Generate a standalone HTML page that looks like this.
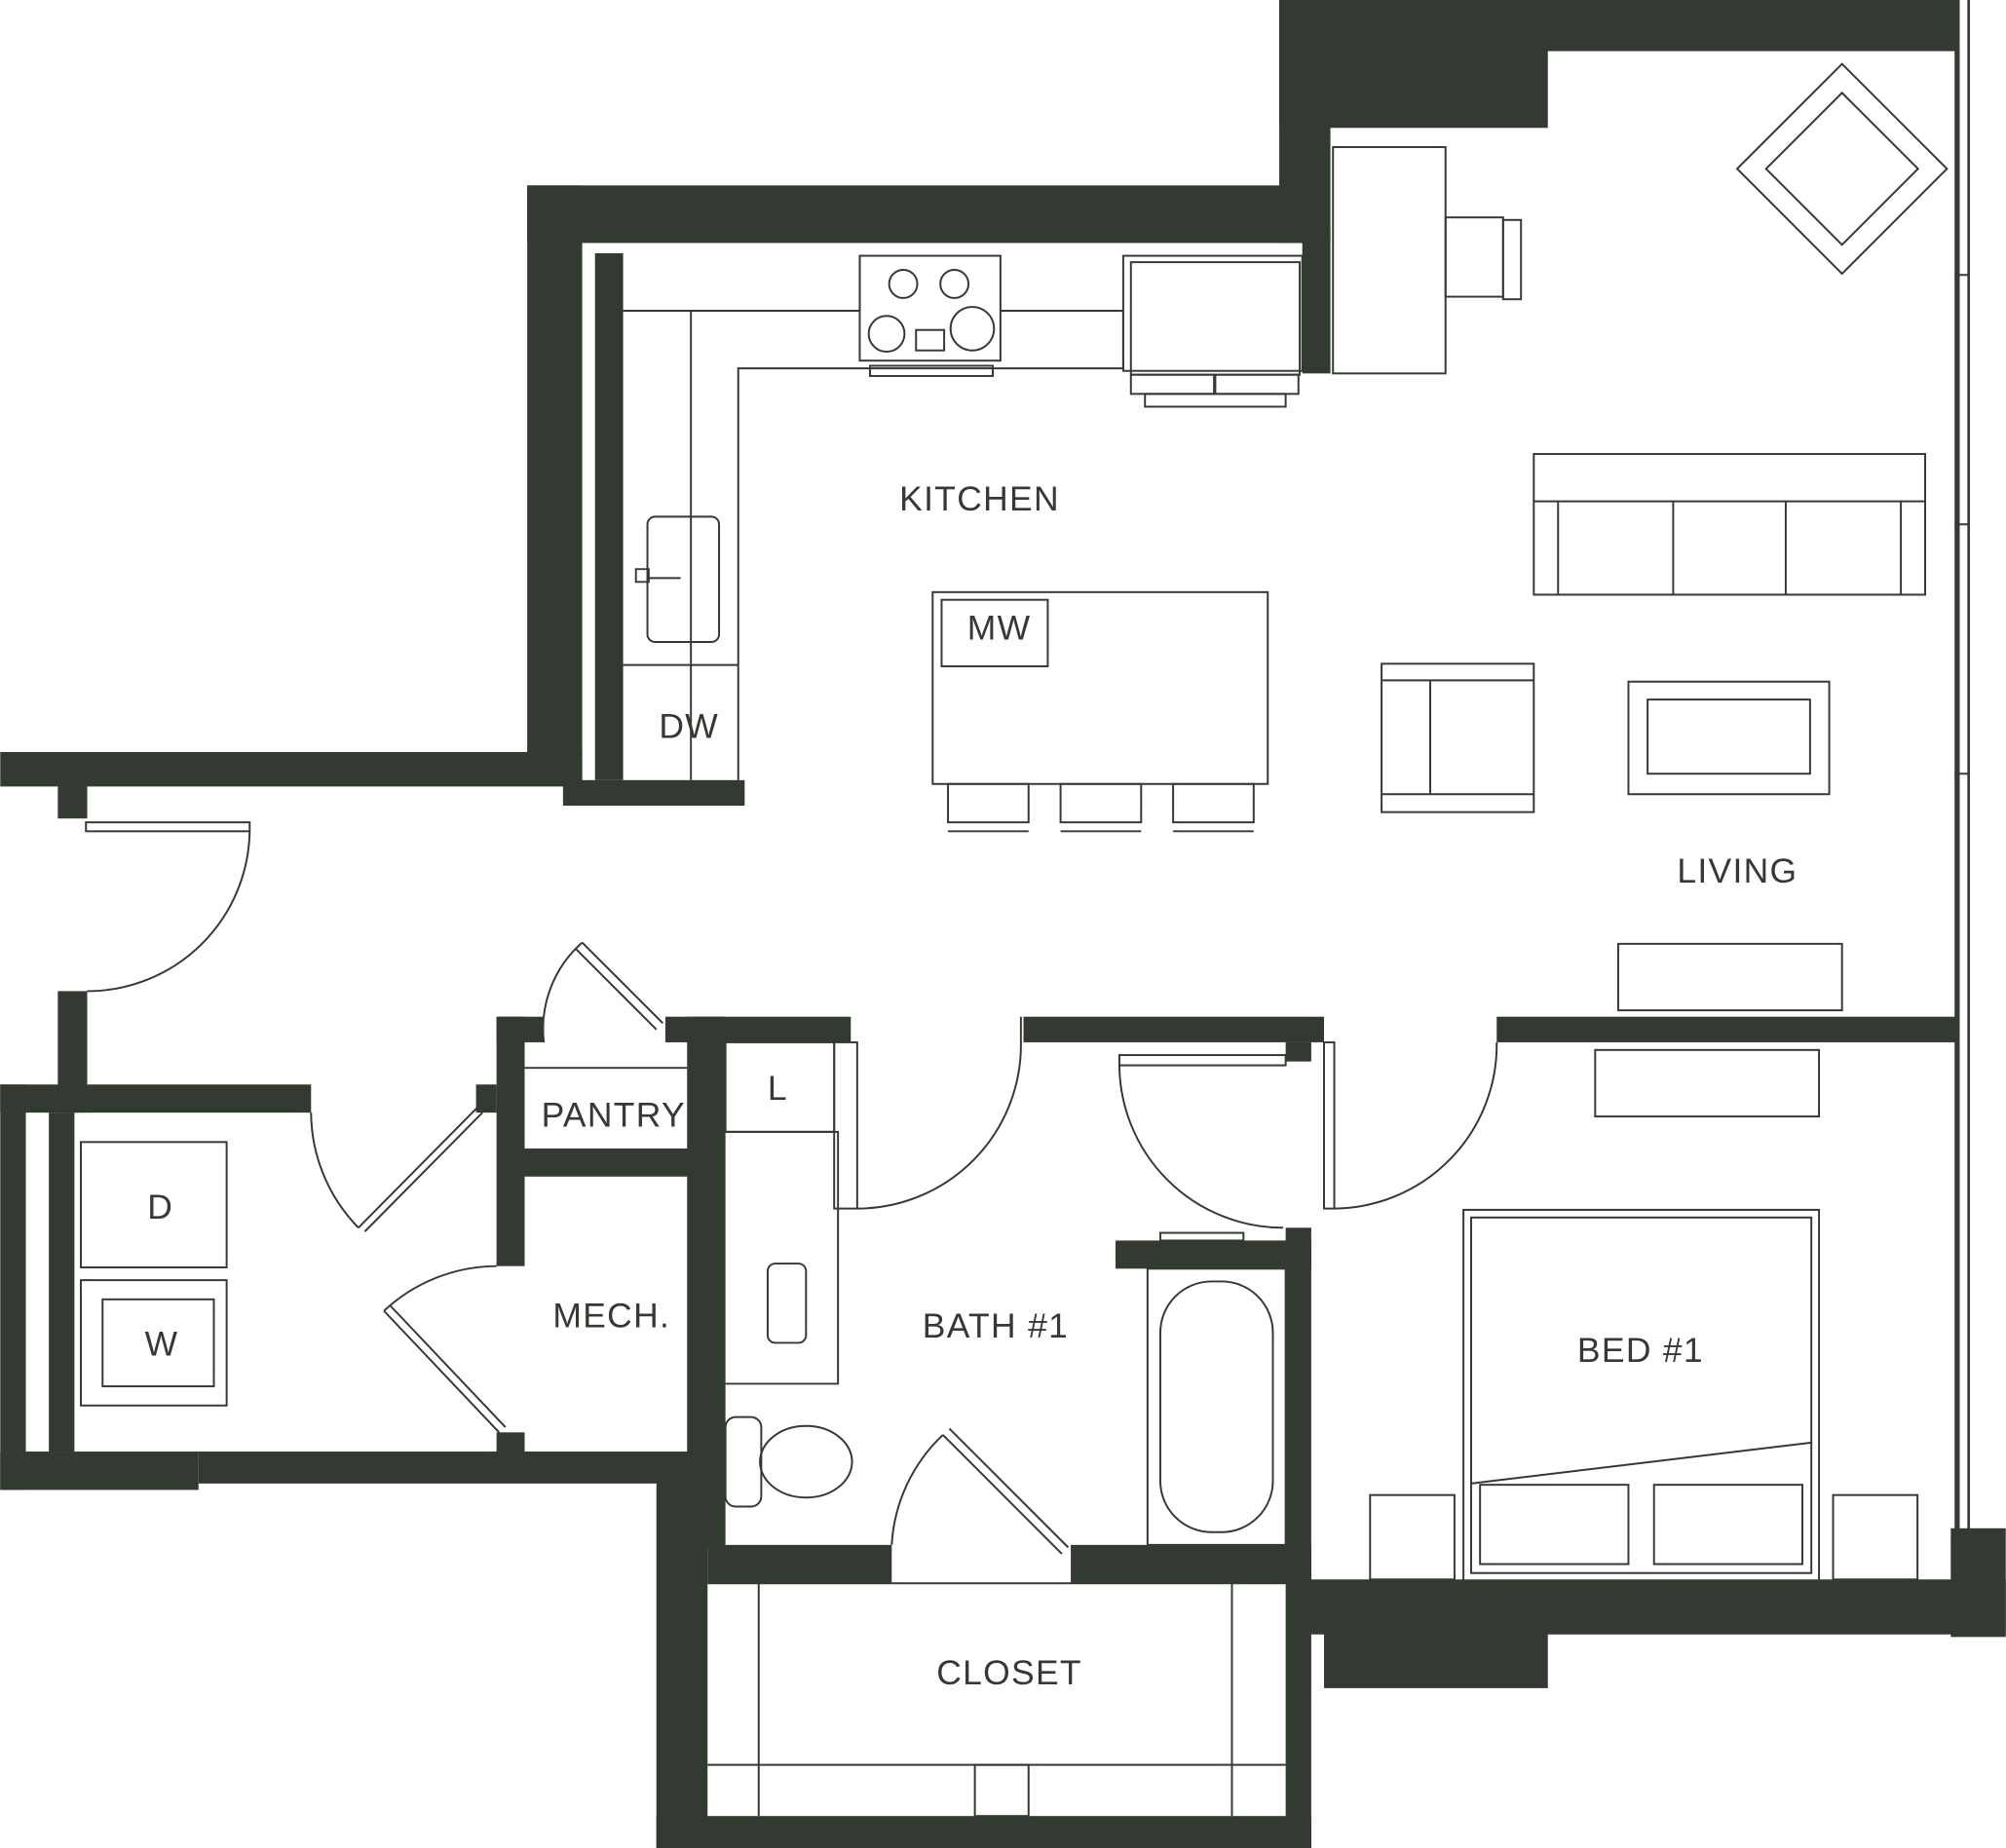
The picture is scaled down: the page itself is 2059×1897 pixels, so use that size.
<!DOCTYPE html>
<html><head><meta charset="utf-8"><style>
html,body{margin:0;padding:0;background:#fff}
svg{display:block}
text{font-family:"Liberation Sans",sans-serif;font-size:27px;fill:#333a31;letter-spacing:1px}
</style></head><body>
<svg width="2059" height="1897" viewBox="0 0 1568 1445" xmlns="http://www.w3.org/2000/svg">
<g fill="#333a31">
<!-- top right -->
<rect x="1000" y="0" width="530" height="40"/>
<rect x="1000" y="40" width="210" height="60"/>
<rect x="1000" y="0" width="40" height="190"/>
<rect x="1018" y="180" width="22" height="112"/>
<!-- kitchen -->
<rect x="412" y="145" width="608" height="45"/>
<rect x="412" y="145" width="43" height="465"/>
<rect x="465" y="198" width="22" height="412"/>
<rect x="0" y="588" width="455" height="27"/>
<rect x="440" y="610" width="142" height="20"/>
<rect x="45" y="610" width="23" height="30"/>
<!-- right window -->
<rect x="1528" y="0" width="4" height="1200"/>
<rect x="1538" y="0" width="2" height="1200"/>
<rect x="1525" y="1195" width="43" height="85"/>
<rect x="1020" y="1235" width="548" height="43"/>
<rect x="1035" y="1270" width="175" height="50"/>
<!-- laundry -->
<rect x="45" y="775" width="23" height="95"/>
<rect x="0" y="848" width="243" height="22"/>
<rect x="0" y="848" width="20" height="317"/>
<rect x="38" y="870" width="20" height="265"/>
<rect x="0" y="1135" width="155" height="30"/>
<rect x="155" y="1135" width="390" height="25"/>
<rect x="372" y="848" width="16" height="22"/>
<!-- pantry/mech -->
<rect x="388" y="795" width="22" height="195"/>
<rect x="388" y="795" width="37" height="20"/>
<rect x="520" y="795" width="145" height="20"/>
<rect x="410" y="898" width="130" height="22"/>
<rect x="388" y="1120" width="22" height="15"/>
<!-- bath -->
<rect x="537" y="795" width="30" height="415"/>
<rect x="513" y="1140" width="40" height="305"/>
<rect x="553" y="1208" width="144" height="30"/>
<rect x="837" y="1208" width="188" height="30"/>
<rect x="513" y="1420" width="512" height="25"/>
<rect x="1005" y="960" width="20" height="485"/>
<rect x="872" y="970" width="153" height="22"/>
<!-- bedroom/living wall -->
<rect x="800" y="795" width="235" height="20"/>
<rect x="1170" y="795" width="360" height="20"/>
<rect x="1005" y="815" width="20" height="15"/>
</g>
<g fill="none" stroke="#333a31" stroke-width="1.5">
<!-- counters -->
<polyline points="487,243 672,243 672,200"/>
<rect x="672" y="200" width="110" height="82"/>
<polyline points="782,243 878,243 878,288 577,288 577,610"/>
<line x1="540" y1="243" x2="540" y2="610"/>
<line x1="487" y1="520" x2="577" y2="520"/>
<circle cx="706" cy="222" r="11"/><circle cx="746" cy="222" r="11"/>
<circle cx="693" cy="261" r="14"/><circle cx="760" cy="257" r="17"/>
<rect x="716" y="258" width="22" height="16"/>
<rect x="680" y="286" width="96" height="8"/>
<rect x="506" y="404" width="56" height="98" rx="6"/>
<path d="M497 445h10v10h-10z M507 452h25"/>
<rect x="878" y="200" width="140" height="90"/>
<rect x="884" y="205" width="132" height="88"/>
<rect x="884" y="293" width="65" height="15"/><rect x="950" y="293" width="65" height="15"/>
<rect x="895" y="308" width="110" height="10"/>
<!-- desk -->
<rect x="1042" y="115" width="88" height="177"/>
<rect x="1130" y="170" width="45" height="62"/>
<rect x="1175" y="172" width="14" height="62"/>
<!-- armchair rotated -->
<g transform="rotate(45 1440 132)">
<rect x="1382" y="74" width="116" height="116"/>
<rect x="1398" y="90" width="84" height="84"/>
</g>
<!-- sofa -->
<rect x="1199" y="355" width="306" height="110"/>
<line x1="1199" y1="392" x2="1505" y2="392"/>
<line x1="1218" y1="392" x2="1218" y2="465"/><line x1="1486" y1="392" x2="1486" y2="465"/>
<line x1="1308" y1="392" x2="1308" y2="465"/><line x1="1396" y1="392" x2="1396" y2="465"/>
<!-- chair, table -->
<rect x="1080" y="519" width="119" height="116"/>
<line x1="1080" y1="532" x2="1199" y2="532"/><line x1="1080" y1="621" x2="1199" y2="621"/>
<line x1="1118" y1="532" x2="1118" y2="621"/>
<rect x="1273" y="533" width="157" height="88"/>
<rect x="1288" y="547" width="127" height="58"/>
<rect x="1265" y="738" width="175" height="52"/>
<!-- island -->
<rect x="729" y="463" width="262" height="150"/>
<rect x="736" y="469" width="83" height="52"/>
<rect x="741" y="613" width="63" height="30"/><rect x="829" y="613" width="63" height="30"/><rect x="917" y="613" width="63" height="30"/>
<line x1="741" y1="650" x2="804" y2="650"/><line x1="829" y1="650" x2="892" y2="650"/><line x1="917" y1="650" x2="980" y2="650"/>
<!-- entry door -->
<rect x="67" y="643" width="128" height="7"/>
<path d="M195 650 A127 127 0 0 1 68 775"/>
<!-- laundry -->
<rect x="63" y="893" width="114" height="98"/>
<rect x="63" y="1001" width="114" height="98"/>
<rect x="80" y="1016" width="87" height="68"/>
<path d="M243 870 A130 130 0 0 0 280 960"/>
<line x1="280" y1="960" x2="373" y2="866"/><line x1="285" y1="963" x2="377" y2="870"/>
<path d="M388 990 A130 130 0 0 0 300 1025"/>
<line x1="300" y1="1025" x2="390" y2="1120"/><line x1="305" y1="1021" x2="395" y2="1116"/>
<!-- pantry door -->
<path d="M425 815 A 90 90 0 0 1 455 737"/>
<line x1="455" y1="737" x2="518" y2="800"/><line x1="450" y1="742" x2="513" y2="805"/>
<line x1="410" y1="835" x2="537" y2="835"/>
<!-- bath -->
<rect x="567" y="815" width="85" height="70"/>
<polyline points="567,885 655,885 655,1082 567,1082"/>
<rect x="600" y="988" width="30" height="62" rx="6"/>
<rect x="567" y="1108" width="28" height="70" rx="8"/>
<ellipse cx="630" cy="1143" rx="36" ry="28"/>
<rect x="897" y="992" width="108" height="216"/>
<rect x="907" y="1002" width="88" height="196" rx="40"/>
<rect x="907" y="964" width="65" height="6"/>
<rect x="652" y="815" width="18" height="130"/>
<path d="M670 945 A128 128 0 0 0 798 815"/>
<line x1="798" y1="795" x2="798" y2="815"/>
<path d="M697 1208 A128 128 0 0 1 737 1122"/>
<line x1="737" y1="1122" x2="830" y2="1215"/><line x1="742" y1="1117" x2="835" y2="1210"/>
<!-- bedroom doors -->
<rect x="875" y="825" width="130" height="8"/>
<path d="M875 833 A128 128 0 0 0 1003 960"/>
<rect x="1035" y="815" width="8" height="130"/>
<path d="M1043 945 A128 128 0 0 0 1170 815"/>
<!-- closet -->
<line x1="553" y1="1238" x2="1005" y2="1238"/>
<line x1="593" y1="1238" x2="593" y2="1420"/><line x1="963" y1="1238" x2="963" y2="1420"/>
<line x1="553" y1="1380" x2="1005" y2="1380"/>
<rect x="762" y="1380" width="42" height="40"/>
<!-- bedroom -->
<rect x="1247" y="821" width="175" height="52"/>
<rect x="1144" y="946" width="278" height="290"/>
<rect x="1150" y="952" width="266" height="278"/>
<line x1="1150" y1="1160" x2="1416" y2="1128"/>
<rect x="1157" y="1161" width="116" height="62"/><rect x="1293" y="1161" width="116" height="62"/>
<rect x="1071" y="1169" width="66" height="66"/><rect x="1433" y="1169" width="66" height="66"/>
<line x1="1528" y1="215" x2="1540" y2="215"/><line x1="1528" y1="410" x2="1540" y2="410"/><line x1="1528" y1="605" x2="1540" y2="605"/>
</g>
<text x="703" y="399">KITCHEN</text>
<text x="756" y="500">MW</text>
<text x="515" y="577">DW</text>
<text x="1311" y="690">LIVING</text>
<text x="423" y="881">PANTRY</text>
<text x="600" y="860">L</text>
<text x="115" y="953">D</text>
<text x="113" y="1060">W</text>
<text x="432" y="1038">MECH.</text>
<text x="721" y="1046">BATH #1</text>
<text x="1233" y="1065">BED #1</text>
<text x="732" y="1317">CLOSET</text>
</svg>
</body></html>
